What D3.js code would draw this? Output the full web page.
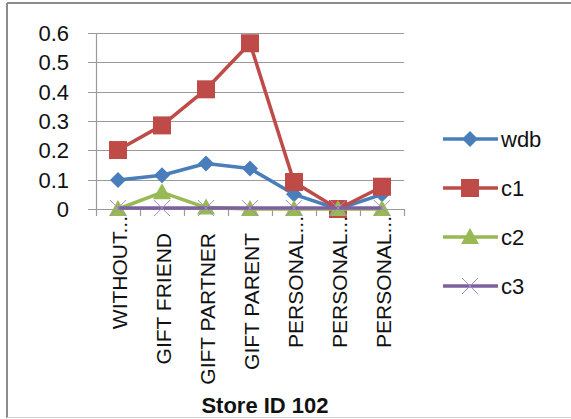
<!DOCTYPE html>
<html>
<head>
<meta charset="utf-8">
<script src="https://cdn.jsdelivr.net/npm/d3@7"></script>
<style>
  body { margin: 0; background: #fff; }
  svg text { font-family: "Liberation Sans", Arial, sans-serif; }
</style>
</head>
<body>
<div id="chart"></div>
<script>
// data
const categories = ["WITHOUT...", "GIFT FRIEND", "GIFT PARTNER", "GIFT PARENT", "PERSONAL...", "PERSONAL...", "PERSONAL..."];
const wdb = [0.099, 0.115, 0.155, 0.138, 0.05, 0.0, 0.05];
const c1 = [0.201, 0.285, 0.408, 0.565, 0.092, 0.0, 0.076];
const c2 = [0.0, 0.057, 0.005, 0.0, 0.0, 0.0, 0.0];
const c3 = [0.003, 0.003, 0.003, 0.003, 0.003, 0.003, 0.003];
const yTicks = [0, 0.1, 0.2, 0.3, 0.4, 0.5, 0.6];

const series = [
  { name: "wdb", values: wdb, color: "#4a7ebb", shape: "diamond" },
  { name: "c1", values: c1, color: "#be4b48", shape: "square" },
  { name: "c2", values: c2, color: "#98b954", shape: "triangle" },
  { name: "c3", values: c3, color: "#7d60a0", shape: "x" }
];

const width = 571, height = 419;
const margin = { top: 33, right: 167, bottom: 210, left: 96 };
const innerWidth = width - margin.left - margin.right;
const innerHeight = height - margin.top - margin.bottom;

const svg = d3.select("#chart").append("svg")
  .attr("width", width)
  .attr("height", height);

// outer frame
svg.append("line").attr("x1", 7).attr("x2", 7).attr("y1", 3).attr("y2", 418)
  .attr("stroke", "#8c8c8c").attr("stroke-width", 2);
svg.append("line").attr("x1", 7).attr("x2", 571).attr("y1", 3).attr("y2", 3)
  .attr("stroke", "#8c8c8c").attr("stroke-width", 2);
svg.append("line").attr("x1", 7).attr("x2", 571).attr("y1", 417.5).attr("y2", 417.5)
  .attr("stroke", "#d0d0d0").attr("stroke-width", 1);

const g = svg.append("g").attr("transform", `translate(${margin.left},${margin.top})`);

const x = d3.scaleBand().domain(d3.range(categories.length)).range([0, innerWidth]);
const y = d3.scaleLinear().domain([0, 0.6]).range([innerHeight, 0]);

// gridlines + y tick marks
g.selectAll(".grid").data(yTicks).enter().append("line")
  .attr("x1", -8).attr("x2", innerWidth)
  .attr("y1", d => Math.round(y(d)) + 0.5).attr("y2", d => Math.round(y(d)) + 0.5)
  .attr("stroke", "#9a9a9a").attr("stroke-width", 1.2);

// y axis line
g.append("line").attr("x1", 0.5).attr("x2", 0.5).attr("y1", 0).attr("y2", innerHeight)
  .attr("stroke", "#9a9a9a").attr("stroke-width", 1.2);

// y labels
g.selectAll(".ylab").data(yTicks).enter().append("text")
  .attr("x", -27).attr("y", d => y(d))
  .attr("dy", "0.36em")
  .attr("text-anchor", "end")
  .attr("font-size", 22)
  .attr("fill", "#111")
  .text(d => d === 0 ? "0" : d3.format(".1f")(d));

// x tick marks
const xt = d3.range(categories.length + 1);
g.selectAll(".xtick").data(xt).enter().append("line")
  .attr("x1", i => i * x.bandwidth() + 0.5).attr("x2", i => i * x.bandwidth() + 0.5)
  .attr("y1", innerHeight).attr("y2", innerHeight + 7)
  .attr("stroke", "#9a9a9a").attr("stroke-width", 1.2);

// x labels rotated
g.selectAll(".xlab").data(categories).enter().append("text")
  .attr("transform", (d, i) => `translate(${x(i) + x.bandwidth() / 2 + 9},${innerHeight + (d.endsWith("...") ? 7 : 24)}) rotate(-90)`)
  .attr("text-anchor", "end")
  .attr("font-size", 21)
  .attr("fill", "#111")
  .text(d => d);

// axis title
svg.append("text")
  .attr("x", 265).attr("y", 413)
  .attr("text-anchor", "middle")
  .attr("font-size", 22)
  .attr("font-weight", "bold")
  .attr("fill", "#111")
  .text("Store ID 102");

function drawMarker(sel, shape, color) {
  if (shape === "diamond") {
    sel.append("path").attr("d", "M0,-8L8,0L0,8L-8,0Z").attr("fill", color);
  } else if (shape === "square") {
    sel.append("rect").attr("x", -9).attr("y", -9).attr("width", 18).attr("height", 18).attr("fill", color);
  } else if (shape === "triangle") {
    sel.append("path").attr("d", "M0,-9L9,7L-9,7Z").attr("fill", color);
  } else {
    sel.append("path").attr("d", "M-8,-8L8,8M-8,8L8,-8").attr("stroke", "#a08cc8").attr("stroke-width", 1).attr("fill", "none");
  }
}

const line = d3.line().x((d, i) => x(i) + x.bandwidth() / 2).y(d => y(d));

series.forEach(s => {
  g.append("path").datum(s.values)
    .attr("d", line)
    .attr("fill", "none")
    .attr("stroke", s.color)
    .attr("stroke-width", 3.5)
    .attr("stroke-linejoin", "round");
  s.values.forEach((v, i) => {
    const m = g.append("g").attr("transform", `translate(${x(i) + x.bandwidth() / 2},${y(v)})`);
    drawMarker(m, s.shape, s.color);
  });
});

// legend
const legend = svg.append("g").attr("transform", "translate(443,139)");
series.forEach((s, i) => {
  const row = legend.append("g").attr("transform", `translate(0,${i * 49})`);
  row.append("line").attr("x1", 0).attr("x2", 55).attr("y1", 0).attr("y2", 0)
    .attr("stroke", s.color).attr("stroke-width", 3.5);
  const m = row.append("g").attr("transform", "translate(27,0)");
  drawMarker(m, s.shape, s.color);
  row.append("text").attr("x", 58).attr("y", 0).attr("dy", "0.36em")
    .attr("font-size", 22).attr("fill", "#111").text(s.name);
});
</script>
</body>
</html>
